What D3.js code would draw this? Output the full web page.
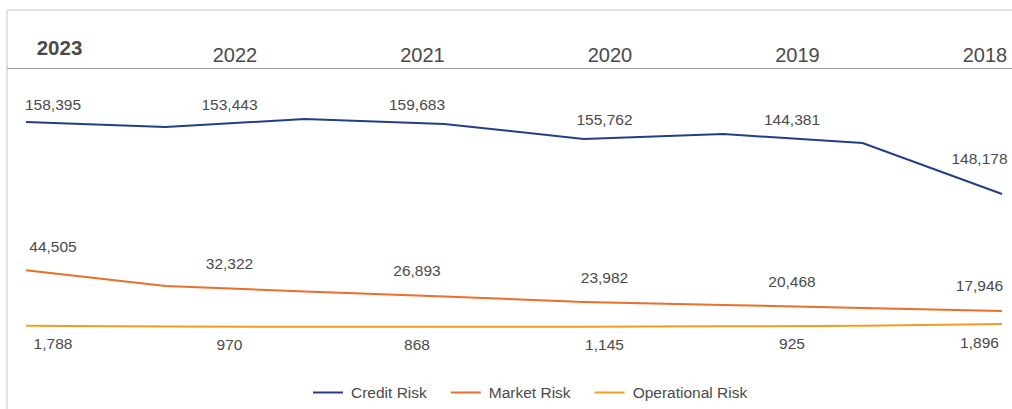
<!DOCTYPE html>
<html>
<head>
<meta charset="utf-8">
<script src="https://cdn.jsdelivr.net/npm/d3@7"></script>
<style>
  body { margin: 0; background: #fff; }
  svg { display: block; font-family: "Helvetica Neue", Helvetica, Arial, "Liberation Sans", sans-serif; }
</style>
</head>
<body>
<svg id="chart" width="1012" height="409"></svg>
<script>
const years = ["2023", "2022", "2021", "2020", "2019", "2018"];
const creditLabels = [158395, 153443, 159683, 155762, 144381, 148178];
const marketLabels = [44505, 32322, 26893, 23982, 20468, 17946];
const operationalLabels = [1788, 970, 868, 1145, 925, 1896];

// the drawn lines have 8 points, not one per year
const steps = [0, 1, 2, 3, 4, 5, 6, 7];
const creditTrend = [158395, 154600, 160800, 156900, 145400, 149200, 142300, 103100];
const marketTrend = [44505, 32300, 28100, 24200, 20000, 17700, 15400, 13100];
const operationalTrend = [1788, 1150, 1000, 1000, 1050, 1300, 1700, 3100];

const seriesNames = ["Credit Risk", "Market Risk", "Operational Risk"];
const colors = ["#223f86", "#ea6f27", "#f39c22"];

const svg = d3.select("#chart"),
    width = +svg.attr("width"),
    textColor = "#4a4a4a";

const x = d3.scalePoint().domain(steps).range([26, 1002]),
    y = d3.scaleLinear().domain([0, 160000]).range([328, 120]),
    col = d3.scalePoint().domain(years).range([42, 979.5]);

// frame
svg.append("line").attr("x1", 7).attr("x2", width).attr("y1", 10).attr("y2", 10)
    .style("stroke", "#e2e2e2").style("stroke-width", 2);
svg.append("line").attr("x1", 7).attr("x2", 7).attr("y1", 10).attr("y2", 409)
    .style("stroke", "#e2e2e2").style("stroke-width", 2);
svg.append("line").attr("x1", 7).attr("x2", width).attr("y1", 68.5).attr("y2", 68.5)
    .style("stroke", "#9a9a9a").style("stroke-width", 1);

// year header
svg.selectAll(".year")
    .data(years)
    .enter()
    .append("text")
    .attr("class", "year")
    .attr("x", (d, i) => col(d) + (i === 0 ? 17.5 : 5.5))
    .attr("y", (d, i) => i === 0 ? 55 : 62)
    .attr("text-anchor", "middle")
    .style("font-size", (d, i) => i === 0 ? "20.5px" : "20px")
    .style("font-weight", (d, i) => i === 0 ? "bold" : "normal")
    .style("fill", textColor)
    .text(d => d);

const trends = [creditTrend, marketTrend, operationalTrend];
const labels = [creditLabels, marketLabels, operationalLabels];

const line = d3.line()
    .x((d, i) => x(steps[i]))
    .y(d => y(d));

trends.forEach(function (t, k) {
    svg.append("path")
        .datum(t)
        .attr("d", line)
        .style("fill", "none")
        .style("stroke", colors[k])
        .style("stroke-width", 2);
});

// y of a trend line at pixel px
function lineYAt(values, px) {
    for (let i = 0; i < steps.length - 1; i++) {
        const x0 = x(steps[i]), x1 = x(steps[i + 1]);
        if (px <= x1 || i === steps.length - 2) {
            const tt = Math.max(0, Math.min(1, (px - x0) / (x1 - x0)));
            return y(values[i]) + tt * (y(values[i + 1]) - y(values[i]));
        }
    }
}

function spanYs(values, a, b) {
    const ys = [lineYAt(values, a), lineYAt(values, b)];
    steps.forEach(function (s, i) {
        if (x(s) > a && x(s) < b) ys.push(y(values[i]));
    });
    return ys;
}

const fmt = d3.format(",");
const offsets = [-12, -19, 23];

labels.forEach(function (vals, k) {
    svg.selectAll(".lbl" + k)
        .data(vals)
        .enter()
        .append("text")
        .attr("class", "lbl" + k)
        .attr("x", (d, i) => col(years[i]) + (i === 0 ? 11 : 0))
        .attr("text-anchor", "middle")
        .style("font-size", "15.5px")
        .style("fill", textColor)
        .text(d => fmt(d))
        .each(function (d, i) {
            const cx = col(years[i]) + (i === 0 ? 11 : 0),
                w = this.getComputedTextLength(),
                ys = spanYs(trends[k], cx - w / 2, cx + w / 2),
                base = offsets[k] < 0 ? d3.min(ys) : d3.max(ys);
            d3.select(this).attr("y", base + offsets[k]);
        });
});

// legend
const legend = svg.append("g").attr("transform", "translate(313,392.5)");
let lx = 0;
seriesNames.forEach(function (name, k) {
    const g = legend.append("g").attr("transform", "translate(" + lx + ",0)");
    g.append("line").attr("x1", 0).attr("x2", 30).attr("y1", 0).attr("y2", 0)
        .style("stroke", colors[k]).style("stroke-width", 2);
    const t = g.append("text").attr("x", 38).attr("y", 5.5)
        .style("font-size", "15.5px").style("fill", textColor).text(name);
    lx += 38 + t.node().getComputedTextLength() + 24;
});
</script>
</body>
</html>
